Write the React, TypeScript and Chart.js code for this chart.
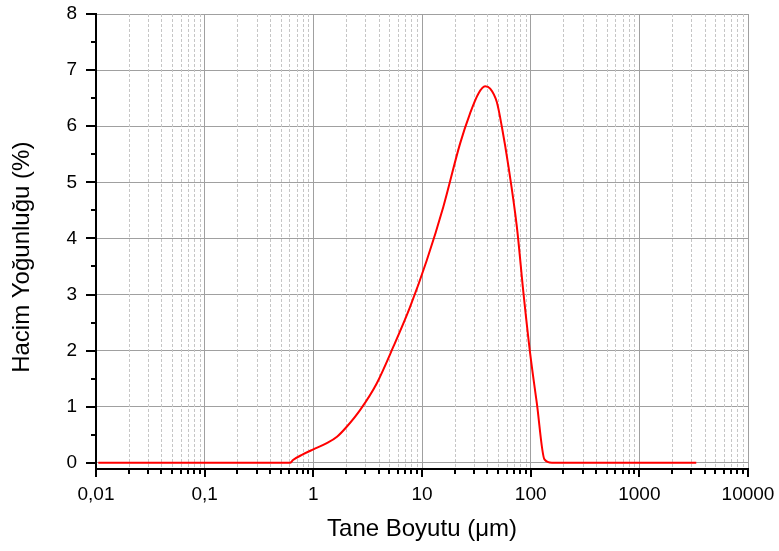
import React, { useEffect, useRef } from 'react';
import { Chart, registerables } from 'chart.js';

Chart.register(...registerables);

// Particle size (µm) and volume density (%)
const sizes = [0.0105, 0.1, 0.61, 0.65, 0.8, 1.0, 1.33, 1.64, 2.0, 2.69, 3.84, 5.45, 7.77, 11.07, 15.7, 22.4, 27.7, 33.0, 38.1, 42.4, 48.8, 54.3, 62.5, 74.6, 85.9, 98.9, 114, 134, 157, 500, 3340];
const volumes = [0, 0, 0, 0.05, 0.15, 0.24, 0.35, 0.46, 0.63, 0.94, 1.42, 2.07, 2.78, 3.61, 4.56, 5.69, 6.23, 6.58, 6.71, 6.67, 6.43, 5.99, 5.28, 4.21, 3.02, 1.95, 1.06, 0.06, 0, 0, 0];

const xDecades = [0.01, 0.1, 1, 10, 100, 1000, 10000];
const xTickLabels = ['0,01', '0,1', '1', '10', '100', '1000', '10000'];
const yTicks = [0, 1, 2, 3, 4, 5, 6, 7, 8];
const yMinorTicks = [0.5, 1.5, 2.5, 3.5, 4.5, 5.5, 6.5, 7.5];

const xTitle = 'Tane Boyutu (\u03bcm)';
const yTitle = 'Hacim Yo\u011funlu\u011fu (%)';

const FONT = '"Liberation Sans", Arial, sans-serif';

export default function App() {
  const ref = useRef<HTMLCanvasElement>(null);

  useEffect(() => {
    if (!ref.current) return;
    const minorX: number[] = [];
    for (let d = 0; d < xDecades.length - 1; d++) {
      for (let k = 2; k <= 9; k++) minorX.push(xDecades[d] * k);
    }
    const allX = [
      ...xDecades.map((v) => ({ value: v, major: true })),
      ...minorX.map((v) => ({ value: v, major: false })),
    ].sort((a, b) => a.value - b.value);

    const extras = {
      id: 'extras',
      beforeDatasetsDraw(chart: any) {
        const { ctx, chartArea, scales } = chart;
        const x = scales.x;
        ctx.save();
        ctx.strokeStyle = '#c6c6c6';
        ctx.lineWidth = 1;
        ctx.setLineDash([3, 2]);
        ctx.beginPath();
        minorX.forEach((v) => {
          const px = Math.round(x.getPixelForValue(v)) + 0.5;
          ctx.moveTo(px, chartArea.top);
          ctx.lineTo(px, chartArea.bottom);
        });
        ctx.stroke();
        ctx.restore();
      },
      afterDraw(chart: any) {
        const { ctx, chartArea, scales } = chart;
        const x = scales.x;
        const y = scales.y;
        ctx.save();
        ctx.strokeStyle = '#000';
        ctx.lineWidth = 2;
        ctx.beginPath();
        xDecades.forEach((v) => {
          const px = Math.round(x.getPixelForValue(v));
          ctx.moveTo(px, chartArea.bottom);
          ctx.lineTo(px, chartArea.bottom + 8);
        });
        minorX.forEach((v) => {
          const px = Math.round(x.getPixelForValue(v));
          ctx.moveTo(px, chartArea.bottom);
          ctx.lineTo(px, chartArea.bottom + 5);
        });
        yTicks.forEach((v) => {
          const py = Math.round(y.getPixelForValue(v));
          ctx.moveTo(chartArea.left, py);
          ctx.lineTo(chartArea.left - 10, py);
        });
        yMinorTicks.forEach((v) => {
          const py = Math.round(y.getPixelForValue(v));
          ctx.moveTo(chartArea.left, py);
          ctx.lineTo(chartArea.left - 5, py);
        });
        ctx.stroke();
        ctx.restore();
      },
    };

    const chart = new Chart(ref.current, {
      type: 'line',
      data: {
        datasets: [
          {
            data: sizes.map((s, i) => ({ x: s, y: volumes[i] })),
            borderColor: '#ff0000',
            borderWidth: 2,
            pointRadius: 0,
            cubicInterpolationMode: 'monotone',
            fill: false,
          },
        ],
      },
      options: {
        animation: false,
        responsive: false,
        devicePixelRatio: 1,
        layout: { padding: { left: 0, right: 31, top: 14, bottom: 0 } },
        plugins: { legend: { display: false }, tooltip: { enabled: false } },
        scales: {
          x: {
            type: 'logarithmic',
            min: 0.01,
            max: 10000,
            afterBuildTicks: (scale: any) => {
              scale.ticks = allX.map((t) => ({ ...t }));
            },
            afterFit: (scale: any) => {
              scale.height = 82;
              scale.paddingLeft = 0;
              scale.paddingRight = 0;
              scale.paddingTop = 0;
              scale.paddingBottom = 0;
            },
            ticks: {
              autoSkip: false,
              maxRotation: 0,
              minRotation: 0,
              color: '#000',
              padding: 6,
              font: { family: FONT, size: 19 },
              callback: (value: any, index: number, ticks: any[]) => {
                const t = ticks[index];
                if (!t || !t.major) return '';
                const di = xDecades.findIndex((d) => Math.abs(Math.log10(d) - Math.log10(t.value)) < 1e-6);
                return di >= 0 ? xTickLabels[di] : '';
              },
            },
            grid: {
              color: (ctx: any) => (ctx.tick && ctx.tick.major ? '#a0a0a0' : 'rgba(0,0,0,0)'),
              lineWidth: 1,
              tickColor: 'rgba(0,0,0,0)',
              tickLength: 8,
            },
            border: { display: true, color: '#000', width: 2 },
            title: {
              display: true,
              text: xTitle,
              color: '#000',
              font: { family: FONT, size: 24 },
              padding: { top: 0, bottom: 7 },
            },
          },
          y: {
            type: 'linear',
            min: -0.11,
            max: 8,
            afterBuildTicks: (scale: any) => {
              scale.ticks = yTicks.map((v) => ({ value: v }));
            },
            afterFit: (scale: any) => {
              scale.width = 96;
              scale.paddingLeft = 0;
              scale.paddingRight = 0;
              scale.paddingTop = 0;
              scale.paddingBottom = 0;
            },
            ticks: {
              color: '#000',
              padding: 9,
              font: { family: FONT, size: 19 },
              callback: (value: any) => String(value),
            },
            grid: {
              color: '#a0a0a0',
              lineWidth: 1,
              tickColor: 'rgba(0,0,0,0)',
              tickLength: 10,
            },
            border: { display: true, color: '#000', width: 2 },
            title: {
              display: true,
              text: yTitle + '    \u2009',
              color: '#000',
              font: { family: FONT, size: 24 },
              padding: { top: 8, bottom: 0 },
            },
          },
        },
      },
      plugins: [extras],
    } as any);

    return () => chart.destroy();
  }, []);

  return (
    <div style={{ position: 'absolute', left: 0, top: 0, width: 779, height: 551, background: '#fff' }}>
      <canvas ref={ref} width={779} height={551} style={{ display: 'block', width: 779, height: 551 }} />
    </div>
  );
}
